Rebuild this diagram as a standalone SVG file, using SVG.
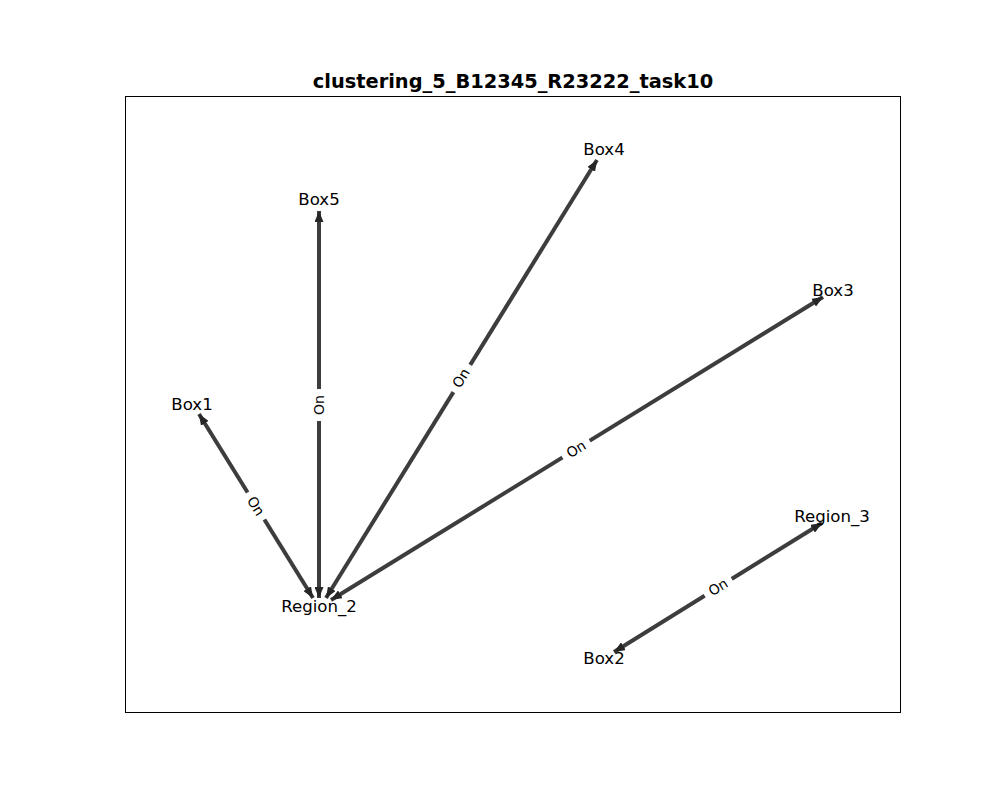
<svg xmlns="http://www.w3.org/2000/svg" width="1000" height="800" viewBox="0 0 1000 800">
<style>
.edge{stroke:#3d3d3d;stroke-width:4;fill:none;marker-start:url(#ah);marker-end:url(#ah)}
.nl{font-family:"DejaVu Sans",sans-serif;font-size:16.6px;fill:#000;text-anchor:middle}
.el{font-family:"DejaVu Sans",sans-serif;font-size:14px;fill:#000;text-anchor:middle}
.bg{fill:#fff}
</style>
<defs>
<marker id="ah" viewBox="0 0 11 9" refX="11" refY="4.5" markerWidth="11" markerHeight="9" markerUnits="userSpaceOnUse" orient="auto-start-reverse">
<path d="M0,0 L11,4.5 L0,9 z" fill="#262626"/>
</marker>
</defs>
<rect width="1000" height="800" fill="#fff"/>
<rect x="125.5" y="96.5" width="775" height="616" fill="none" stroke="#000" stroke-width="1"/>
<text x="513" y="88" font-family="DejaVu Sans, sans-serif" font-size="19.4px" font-weight="bold" text-anchor="middle">clustering_5_B12345_R23222_task10</text>
<g id="connectors">
<g id="e-region2-box1"><line class="edge" x1="313" y1="598" x2="199" y2="414"/>
<g transform="translate(256,506) rotate(58.2)"><rect class="bg" x="-16" y="-9" width="32" height="18"/><text class="el" x="0" y="5">On</text></g></g>
<g id="e-region2-box5"><line class="edge" x1="319" y1="598" x2="319" y2="211"/>
<g transform="translate(319,405) rotate(-90)"><rect class="bg" x="-16" y="-9" width="32" height="18"/><text class="el" x="0" y="5">On</text></g></g>
<g id="e-region2-box4"><line class="edge" x1="326" y1="598" x2="597" y2="160"/>
<g transform="translate(461,378) rotate(-58.3)"><rect class="bg" x="-16" y="-9" width="32" height="18"/><text class="el" x="0" y="5">On</text></g></g>
<g id="e-region2-box3"><line class="edge" x1="331" y1="600" x2="823" y2="297"/>
<g transform="translate(576,449) rotate(-31.6)"><rect class="bg" x="-16" y="-9" width="32" height="18"/><text class="el" x="0" y="5">On</text></g></g>
<g id="e-box2-region3"><line class="edge" x1="614" y1="652" x2="822" y2="523"/>
<g transform="translate(718,587) rotate(-31.8)"><rect class="bg" x="-16" y="-9" width="32" height="18"/><text class="el" x="0" y="5">On</text></g></g>
</g>
<g id="Region_2"><text class="nl" x="319" y="612">Region_2</text></g>
<g id="Box1"><text class="nl" x="192" y="410">Box1</text></g>
<g id="Box5"><text class="nl" x="319" y="205">Box5</text></g>
<g id="Box4"><text class="nl" x="604" y="155">Box4</text></g>
<g id="Box3"><text class="nl" x="833" y="296">Box3</text></g>
<g id="Region_3"><text class="nl" x="832" y="522">Region_3</text></g>
<g id="Box2"><text class="nl" x="604" y="664">Box2</text></g>
</svg>
